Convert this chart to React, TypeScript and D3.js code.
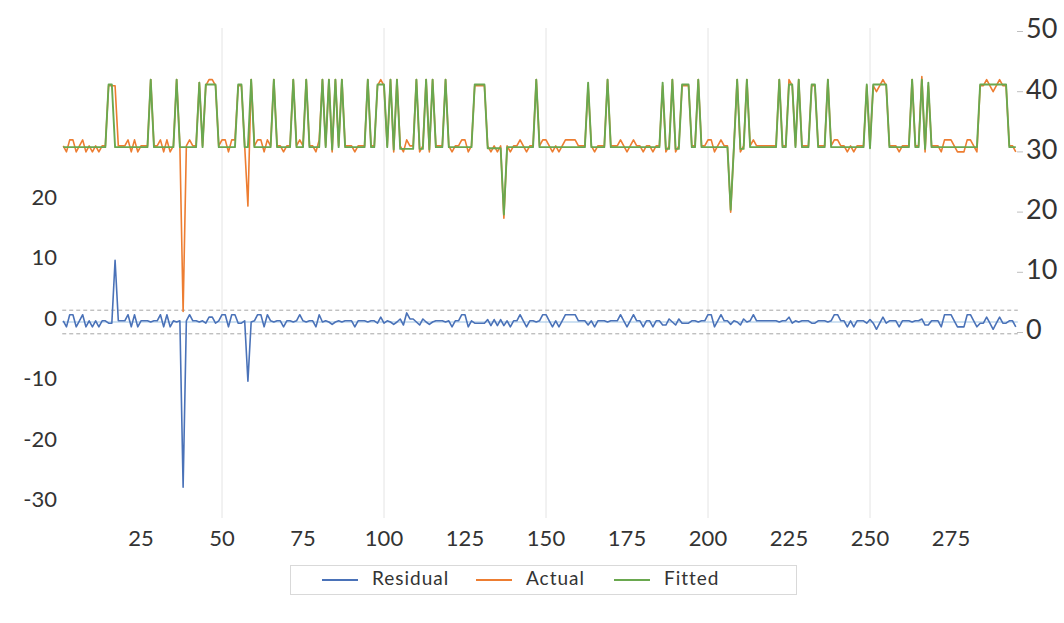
import { useEffect, useRef } from "react";
import * as d3 from "d3";

const WIDTH = 1064;
const HEIGHT = 623;

const actual = [
  31, 30, 32, 32, 30, 31, 32, 30, 31, 30,
  31, 30, 31, 31, 41, 41, 41, 31, 31, 31,
  32, 30, 32, 30, 31, 31, 31, 42, 31, 31,
  32, 30, 32, 30, 31, 42, 31, 3.5, 31, 32,
  31, 31, 41.5, 31, 41, 42, 42, 41, 31, 32,
  32, 30, 32, 32, 41, 41, 31, 21, 42, 31,
  32, 32, 30, 32, 31, 42, 31, 31, 30, 31,
  31, 42, 31, 32, 31, 42, 31, 31, 30, 32,
  42, 31, 42, 30, 42, 31, 42, 31, 31, 31,
  30, 31, 31, 31, 42, 31, 31, 41, 42, 41,
  31, 42, 30, 42, 31, 30, 32, 31, 31, 42,
  30, 31, 42, 30, 42, 31, 31, 31, 42, 31,
  30, 31, 31, 32, 32, 30, 31, 41, 41, 41,
  41, 31, 30, 31, 30, 31, 19, 31, 30, 31,
  31, 32, 31, 30, 31, 31, 42, 31, 32, 32,
  31, 30, 31, 30, 31, 32, 32, 32, 32, 31,
  31, 31, 41, 31, 30, 31, 31, 31, 42, 31,
  31, 31, 32, 31, 30, 31, 32, 31, 31, 30,
  31, 31, 30, 31, 31, 41, 30, 31, 42, 30,
  31, 41, 41, 41, 31, 31, 42, 31, 31, 32,
  32, 30, 31, 32, 31, 31, 20, 31, 42, 30,
  31, 42, 31, 32, 31, 31, 31, 31, 31, 31,
  31, 42, 31, 31, 42, 41, 31, 42, 31, 31,
  31, 41, 41, 31, 31, 31, 42, 31, 32, 32,
  31, 31, 30, 31, 30, 31, 31, 31, 41, 31,
  41, 40, 41, 42, 41, 31, 31, 31, 30, 31,
  31, 31, 42, 31, 31, 42.5, 30, 41, 31, 31,
  31, 30, 32, 32, 32, 31, 30, 30, 30, 32,
  32, 31, 30, 41, 41, 42, 41, 40, 41, 42,
  41, 41, 31, 31, 30,
];

const fitted = [
  30.8, 30.8, 30.8, 30.8, 30.8, 30.8, 30.8, 30.8, 30.8, 30.8,
  30.8, 30.8, 30.8, 30.8, 41.2, 41.2, 30.8, 30.8, 30.8, 30.8,
  30.8, 30.8, 30.8, 30.8, 30.8, 30.8, 30.8, 42, 30.8, 30.8,
  30.8, 30.8, 30.8, 30.8, 30.8, 42, 30.8, 30.8, 30.8, 30.8,
  30.8, 30.8, 41.5, 30.8, 41.2, 41.2, 41.2, 41.2, 30.8, 30.8,
  30.8, 30.8, 30.8, 30.8, 41.2, 41.2, 30.8, 30.8, 42, 30.8,
  30.8, 30.8, 30.8, 30.8, 30.8, 42, 30.8, 30.8, 30.8, 30.8,
  30.8, 42, 30.8, 30.8, 30.8, 42, 30.8, 30.8, 30.8, 30.8,
  42, 30.8, 42, 30.4, 42, 30.8, 42, 30.8, 30.8, 30.8,
  30.8, 30.8, 30.8, 30.8, 42, 30.8, 30.8, 41.2, 41.2, 41.2,
  30.8, 42, 30.4, 42, 30.5, 30.5, 30.5, 30.5, 30.5, 42,
  30.5, 30.5, 42, 30.4, 42, 30.8, 30.8, 30.8, 42, 30.8,
  30.8, 30.8, 30.8, 30.8, 30.8, 30.8, 30.8, 41.2, 41.2, 41.2,
  41.2, 30.6, 30.6, 30.6, 30.6, 30.6, 19.6, 30.8, 30.8, 30.8,
  30.8, 30.8, 30.8, 30.8, 30.8, 30.8, 42, 30.8, 30.8, 30.8,
  30.8, 30.8, 30.8, 30.8, 30.8, 30.8, 30.8, 30.8, 30.8, 30.8,
  30.8, 30.8, 41.5, 30.8, 30.8, 30.8, 30.8, 30.8, 42, 30.8,
  30.8, 30.8, 30.8, 30.8, 30.8, 30.8, 30.8, 30.8, 30.8, 30.8,
  30.8, 30.8, 30.8, 30.8, 30.8, 41.5, 30.5, 30.5, 42, 30.5,
  30.5, 41.2, 41.2, 41.2, 30.8, 30.8, 42, 30.8, 30.8, 30.8,
  30.8, 30.8, 30.8, 30.8, 30.8, 30.8, 20.4, 30.8, 42, 30.5,
  30.5, 42, 30.8, 30.8, 30.8, 30.8, 30.8, 30.8, 30.8, 30.8,
  30.8, 42, 30.8, 30.8, 41.2, 41.2, 30.8, 42, 30.8, 30.8,
  30.8, 41.2, 41.2, 30.8, 30.8, 30.8, 42, 30.8, 30.8, 30.8,
  30.8, 30.8, 30.8, 30.8, 30.8, 30.8, 30.8, 30.8, 41.2, 30.6,
  41.2, 41.2, 41.2, 41.2, 41.2, 30.8, 30.8, 30.8, 30.8, 30.8,
  30.8, 30.8, 42, 30.8, 30.8, 42, 30.5, 41.5, 30.8, 30.8,
  30.8, 30.8, 30.8, 30.8, 30.8, 30.8, 30.8, 30.8, 30.8, 30.8,
  30.8, 30.8, 30.8, 41.2, 41.2, 41.2, 41.2, 41.2, 41.2, 41.2,
  41.2, 41.2, 30.8, 30.8, 30.8,
];

const xTickLabels = [25, 50, 75, 100, 125, 150, 175, 200, 225, 250, 275];
const gridObs = [50, 100, 150, 200, 250];
const leftTicks = [-30, -20, -10, 0, 10, 20];
const rightTicks = [0, 10, 20, 30, 40, 50];
const seBand = 1.95; // +/- 1 S.E. of regression
const seriesNames = ["Residual", "Actual", "Fitted"];
const seriesColors = ["#4a72b8", "#ED7D31", "#6aa84f"];

const FONT = "Lato, 'Open Sans', sans-serif";

const ResidualChart = () => {
  const ref = useRef<SVGSVGElement | null>(null);

  useEffect(() => {
    const svg = d3.select(ref.current);
    svg.selectAll("*").remove();

    const n = actual.length;
    const residual = actual.map((a, i) => a - fitted[i]);

    const x = d3.scaleLinear().domain([0, 295]).range([60, 60 + 295 * 3.24]);
    const yLeft = d3.scaleLinear().domain([-30, 20]).range([503.5, 201]);
    const yRight = d3.scaleLinear().domain([0, 50]).range([332.5, 31.5]);

    // vertical grid
    svg
      .selectAll("line.grid")
      .data(gridObs)
      .enter()
      .append("line")
      .attr("x1", (d) => x(d))
      .attr("x2", (d) => x(d))
      .attr("y1", 28)
      .attr("y2", 518)
      .attr("stroke", "#e4e4e4")
      .attr("stroke-width", 1);

    // residual reference lines
    const xs = x(1) - 1;
    const xe = x(n) + 2;
    svg
      .append("line")
      .attr("x1", xs)
      .attr("x2", xe)
      .attr("y1", yLeft(0))
      .attr("y2", yLeft(0))
      .attr("stroke", "#9dc3e6")
      .attr("stroke-width", 1.2);

    svg
      .selectAll("line.band")
      .data([seBand, -seBand])
      .enter()
      .append("line")
      .attr("x1", xs)
      .attr("x2", xe)
      .attr("y1", (d) => yLeft(d))
      .attr("y2", (d) => yLeft(d))
      .attr("stroke", "#a6a6a6")
      .attr("stroke-width", 1)
      .attr("stroke-dasharray", "4,3");

    const idx = d3.range(n);

    const lineLeft = d3
      .line<number>()
      .x((i) => x(i + 1))
      .y((i) => yLeft(residual[i]));

    const lineRight = (vals: number[]) =>
      d3
        .line<number>()
        .x((i) => x(i + 1))
        .y((i) => yRight(vals[i]))(idx);

    svg
      .append("path")
      .attr("d", lineLeft(idx))
      .attr("fill", "none")
      .attr("stroke", seriesColors[0])
      .attr("stroke-width", 1.6)
      .attr("stroke-linejoin", "round");

    svg
      .append("path")
      .attr("d", lineRight(actual))
      .attr("fill", "none")
      .attr("stroke", seriesColors[1])
      .attr("stroke-width", 1.6)
      .attr("stroke-linejoin", "round");

    svg
      .append("path")
      .attr("d", lineRight(fitted))
      .attr("fill", "none")
      .attr("stroke", seriesColors[2])
      .attr("stroke-width", 1.9)
      .attr("stroke-linejoin", "round");

    // left axis labels
    svg
      .selectAll("text.left")
      .data(leftTicks)
      .enter()
      .append("text")
      .attr("x", 57)
      .attr("y", (d) => yLeft(d) - 2)
      .attr("dominant-baseline", "middle")
      .style("text-anchor", "end")
      .style("font-family", FONT)
      .style("font-size", "22px")
      .style("fill", "#333")
      .text((d) => (d < 0 ? "-" + Math.abs(d) : String(d)));

    // right axis ticks + labels
    svg
      .selectAll("line.rtick")
      .data(rightTicks)
      .enter()
      .append("line")
      .attr("x1", 1017)
      .attr("x2", 1023)
      .attr("y1", (d) => yRight(d))
      .attr("y2", (d) => yRight(d))
      .attr("stroke", "#bfbfbf")
      .attr("stroke-width", 1);

    svg
      .selectAll("text.right")
      .data(rightTicks)
      .enter()
      .append("text")
      .attr("x", 1026)
      .attr("y", (d) => yRight(d))
      .attr("dominant-baseline", "middle")
      .style("font-family", FONT)
      .style("font-size", "27px")
      .style("fill", "#333")
      .text((d) => String(d));

    // bottom labels
    svg
      .selectAll("text.bottom")
      .data(xTickLabels)
      .enter()
      .append("text")
      .attr("x", (d) => x(d))
      .attr("y", 540)
      .attr("dominant-baseline", "middle")
      .style("text-anchor", "middle")
      .style("font-family", FONT)
      .style("font-size", "22px")
      .style("fill", "#333")
      .text((d) => String(d));

    // legend
    const legend = svg.append("g");
    legend
      .append("rect")
      .attr("x", 290.5)
      .attr("y", 565.5)
      .attr("width", 506)
      .attr("height", 29)
      .attr("fill", "white")
      .attr("stroke", "#d9d9d9");

    const lineStarts = [322, 476, 614];
    seriesNames.forEach((name, i) => {
      legend
        .append("line")
        .attr("x1", lineStarts[i])
        .attr("x2", lineStarts[i] + 36)
        .attr("y1", 580)
        .attr("y2", 580)
        .attr("stroke", seriesColors[i])
        .attr("stroke-width", 1.8);
      legend
        .append("text")
        .attr("x", lineStarts[i] + 50)
        .attr("y", 580)
        .attr("dominant-baseline", "middle")
        .style("font-family", FONT)
        .style("font-size", "19px")
        .style("letter-spacing", "1px")
        .style("fill", "#333")
        .text(name);
    });
  }, []);

  return (
    <svg
      ref={ref}
      width={WIDTH}
      height={HEIGHT}
      style={{ position: "absolute", left: 0, top: 0, background: "white" }}
    />
  );
};

export default function App() {
  return <ResidualChart />;
}
